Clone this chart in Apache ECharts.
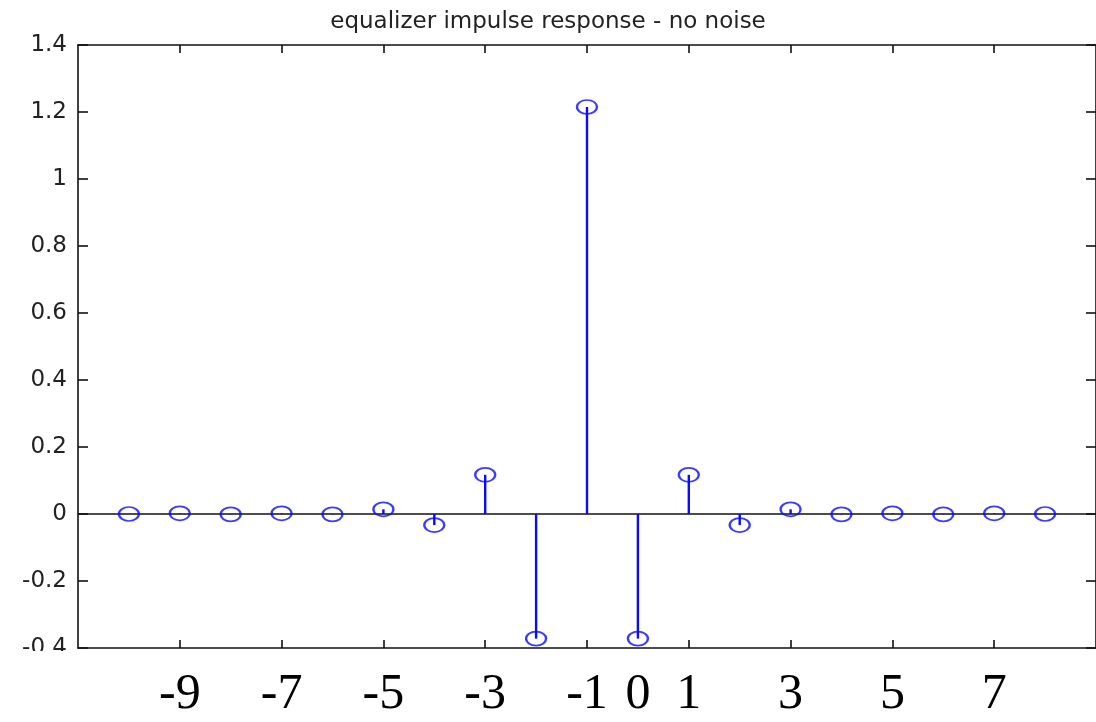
<!DOCTYPE html>
<html>
<head>
<meta charset="utf-8">
<script src="https://cdn.jsdelivr.net/npm/echarts@6/dist/echarts.min.js"></script>
<style>
  html, body { margin: 0; padding: 0; background: #fff; }
  #chart { width: 1096px; height: 722px; }
</style>
</head>
<body>
<div id="chart"></div>
<script>
// Sample indices of the equalizer taps
const taps = [-10, -9, -8, -7, -6, -5, -4, -3, -2, -1, 0, 1, 2, 3, 4, 5, 6, 7, 8];
// Impulse response amplitude at each tap
const response = [0, 0.002, -0.001, 0.002, -0.001, 0.014, -0.033, 0.117, -0.372, 1.215,
                  -0.372, 0.117, -0.033, 0.014, -0.001, 0.002, -0.001, 0.002, 0];
// Tick marks and labels along the horizontal axis
const xTicks = [-9, -7, -5, -3, -1, 1, 3, 5, 7];
const xTickLabels = [-9, -7, -5, -3, -1, 0, 1, 3, 5, 7];
const titleText = 'equalizer impulse response - no noise';

const points = taps.map((n, i) => [n, response[i]]);

const stemBlue = '#0a0aff';
const axisColor = '#111';

const chart = echarts.init(document.getElementById('chart'), null, { renderer: 'canvas' });

chart.setOption({
  backgroundColor: '#fff',
  animation: false,
  title: {
    text: titleText,
    left: 'center',
    top: 6,
    textStyle: { fontFamily: 'DejaVu Sans', fontSize: 23, fontWeight: 'normal', color: '#222' }
  },
  grid: { left: 78, right: -3, top: 45, bottom: 74, containLabel: false },
  xAxis: [
    {
      type: 'value', position: 'bottom', min: -11, max: 9, z: 10,
      axisLine: { show: true, onZero: false, lineStyle: { color: axisColor, width: 1.6 } },
      axisTick: { show: true, inside: true, length: 8, customValues: xTicks,
                  lineStyle: { color: axisColor, width: 1.6 } },
      axisLabel: { show: true, customValues: xTickLabels, margin: 22,
                   fontFamily: 'Liberation Serif', fontSize: 50, color: '#000' },
      splitLine: { show: false }
    },
    {
      type: 'value', position: 'top', min: -11, max: 9,
      axisLine: { show: true, onZero: false, lineStyle: { color: axisColor, width: 1.6 } },
      axisTick: { show: true, inside: true, length: 8, customValues: xTicks,
                  lineStyle: { color: axisColor, width: 1.6 } },
      axisLabel: { show: false },
      splitLine: { show: false }
    }
  ],
  yAxis: [
    {
      type: 'value', position: 'left', min: -0.4, max: 1.4, interval: 0.2,
      axisLine: { show: true, onZero: false, lineStyle: { color: axisColor, width: 1.6 } },
      axisTick: { show: true, inside: true, length: 10, lineStyle: { color: axisColor, width: 1.6 } },
      axisLabel: { margin: 11, fontFamily: 'DejaVu Sans', fontSize: 23, color: '#222' },
      splitLine: { show: false }
    },
    {
      type: 'value', position: 'right', min: -0.4, max: 1.4, interval: 0.2,
      axisLine: { show: true, onZero: false, lineStyle: { color: axisColor, width: 1.6 } },
      axisTick: { show: true, inside: true, length: 10, lineStyle: { color: axisColor, width: 1.6 } },
      axisLabel: { show: false },
      splitLine: { show: false }
    }
  ],
  graphic: [
    // blank strip below the plot box on the left
    { type: 'rect', left: 0, top: 651, z: 100, silent: true,
      shape: { width: 74, height: 71 }, style: { fill: '#fff' } }
  ],
  series: [
    {
      name: 'stems',
      type: 'custom',
      xAxisIndex: 0, yAxisIndex: 0,
      data: points,
      renderItem: function (params, api) {
        const x = api.value(0);
        const y = api.value(1);
        const p0 = api.coord([x, 0]);
        const p1 = api.coord([x, y]);
        return {
          type: 'line',
          shape: { x1: p0[0], y1: p0[1], x2: p1[0], y2: p1[1] },
          style: { stroke: stemBlue, lineWidth: 2.4 }
        };
      },
      markLine: {
        silent: true,
        symbol: ['none', 'none'],
        label: { show: false },
        lineStyle: { color: axisColor, width: 1.6, type: 'solid' },
        data: [{ yAxis: 0 }],
        z: 1
      },
      z: 3
    },
    {
      name: 'heads',
      type: 'scatter',
      xAxisIndex: 0, yAxisIndex: 0,
      data: points,
      symbol: 'circle',
      symbolSize: [20, 14],
      itemStyle: { color: 'rgba(0,0,0,0)', borderColor: stemBlue, borderWidth: 2 },
      z: 4
    }
  ]
});
</script>
</body>
</html>
